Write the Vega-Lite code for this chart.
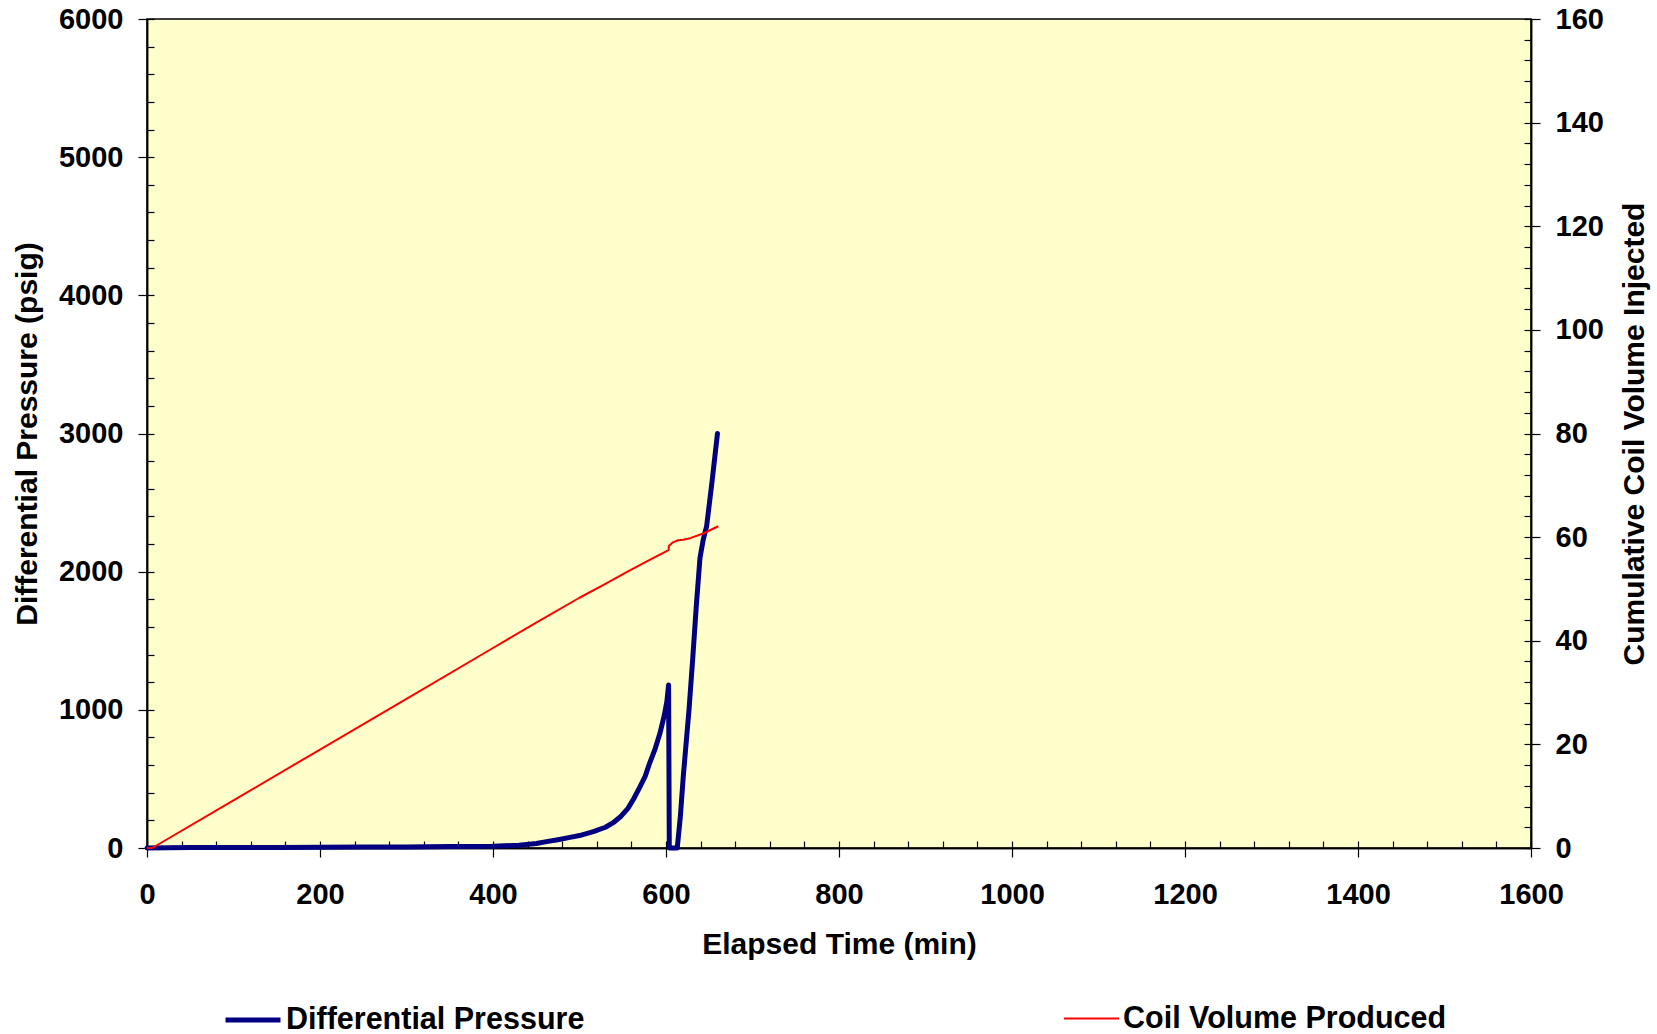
{
  "$schema": "https://vega.github.io/schema/vega-lite/v6.json",
  "width": 1384,
  "height": 829,
  "autosize": {"type": "none"},
  "padding": {"left": 147, "top": 19, "right": 126, "bottom": 186},
  "background": "white",
  "config": {
    "view": {"fill": "#FFFFCC", "stroke": "black", "strokeWidth": 1.5},
    "font": "Liberation Sans",
    "axis": {
      "grid": false,
      "domainColor": "black",
      "domainWidth": 1.5,
      "tickColor": "black",
      "tickWidth": 1.2,
      "labelFont": "Liberation Sans",
      "labelFontWeight": "bold",
      "labelFontSize": 29,
      "labelColor": "black",
      "labelOverlap": false,
      "labelFlush": false,
      "format": "d",
      "titleFont": "Liberation Sans",
      "titleFontWeight": "bold",
      "titleFontSize": 30,
      "titleColor": "black"
    },
    "legend": {
      "title": null,
      "orient": "none",
      "direction": "horizontal",
      "symbolType": "stroke",
      "symbolSize": 3025,
      "labelFont": "Liberation Sans",
      "labelFontWeight": "bold",
      "labelFontSize": 30.5,
      "labelColor": "black",
      "labelOffset": 3,
      "labelLimit": 0,
      "padding": 0
    }
  },
  "datasets": {
    "pressure": [
      {"t": 0, "p": 0}, {"t": 50, "p": 3}, {"t": 100, "p": 4}, {"t": 150, "p": 4},
      {"t": 200, "p": 6}, {"t": 250, "p": 7}, {"t": 300, "p": 8}, {"t": 350, "p": 10},
      {"t": 400, "p": 13}, {"t": 430, "p": 20}, {"t": 450, "p": 32}, {"t": 462, "p": 46},
      {"t": 475, "p": 60}, {"t": 489, "p": 77}, {"t": 500, "p": 90}, {"t": 516, "p": 118},
      {"t": 530, "p": 150}, {"t": 539, "p": 183}, {"t": 548, "p": 230}, {"t": 556, "p": 287},
      {"t": 563, "p": 360}, {"t": 570, "p": 444}, {"t": 576, "p": 520}, {"t": 581, "p": 613},
      {"t": 587, "p": 710}, {"t": 593, "p": 830}, {"t": 598, "p": 960}, {"t": 601, "p": 1060},
      {"t": 603, "p": 1180}, {"t": 603.8, "p": 0}, {"t": 613, "p": 0}, {"t": 616.5, "p": 220},
      {"t": 620, "p": 520}, {"t": 626.6, "p": 1000}, {"t": 631, "p": 1380}, {"t": 635, "p": 1750},
      {"t": 639.3, "p": 2100}, {"t": 643, "p": 2230}, {"t": 647, "p": 2330}, {"t": 653, "p": 2640},
      {"t": 659.5, "p": 3000}
    ],
    "volume": [
      {"t": 0, "v": 0}, {"t": 6, "v": 0}, {"t": 100, "v": 9.2}, {"t": 200, "v": 19.0},
      {"t": 300, "v": 28.8}, {"t": 400, "v": 38.6}, {"t": 450, "v": 43.5}, {"t": 500, "v": 48.3},
      {"t": 530, "v": 51.0}, {"t": 555, "v": 53.3}, {"t": 580, "v": 55.5}, {"t": 603, "v": 57.5},
      {"t": 603.3, "v": 58.3}, {"t": 608, "v": 59.0}, {"t": 614, "v": 59.4}, {"t": 620, "v": 59.5},
      {"t": 628, "v": 59.8}, {"t": 643, "v": 60.7}, {"t": 660.5, "v": 62.1}
    ]
  },
  "layer": [
    {
      "data": {"name": "pressure"},
      "mark": {"type": "line", "opacity": 0},
      "encoding": {
        "x": {"field": "t", "type": "quantitative", "scale": {"domain": [0, 1600], "nice": false},
              "axis": {"orient": "bottom", "values": [0,40,80,120,160,200,240,280,320,360,400,440,480,520,560,600,640,680,720,760,800,840,880,920,960,1000,1040,1080,1120,1160,1200,1240,1280,1320,1360,1400,1440,1480,1520,1560,1600],
                       "tickSize": -7, "labels": false, "title": null}},
        "y": {"field": "p", "type": "quantitative", "scale": {"domain": [0, 6000], "nice": false},
              "axis": {"orient": "left", "values": [0,200,400,600,800,1000,1200,1400,1600,1800,2000,2200,2400,2600,2800,3000,3200,3400,3600,3800,4000,4200,4400,4600,4800,5000,5200,5400,5600,5800,6000],
                       "tickSize": -7, "labels": false, "title": null}}
      }
    },
    {
      "data": {"name": "volume"},
      "mark": {"type": "line", "opacity": 0},
      "encoding": {
        "x": {"field": "t", "type": "quantitative", "scale": {"domain": [0, 1600], "nice": false}, "axis": null},
        "y": {"field": "v", "type": "quantitative", "scale": {"domain": [0, 160], "nice": false},
              "axis": {"orient": "right", "values": [0,4,8,12,16,20,24,28,32,36,40,44,48,52,56,60,64,68,72,76,80,84,88,92,96,100,104,108,112,116,120,124,128,132,136,140,144,148,152,156,160],
                       "tickSize": -7, "labels": false, "title": null}}
      }
    },
    {
      "data": {"name": "pressure"},
      "mark": {"type": "line", "strokeWidth": 5, "strokeJoin": "round", "strokeCap": "round"},
      "encoding": {
        "x": {"field": "t", "type": "quantitative", "scale": {"domain": [0, 1600], "nice": false},
              "axis": {"orient": "bottom", "values": [0,200,400,600,800,1000,1200,1400,1600], "tickSize": 9,
                       "labelBaseline": "alphabetic", "labelPadding": 46,
                       "title": "Elapsed Time (min)", "titleBaseline": "alphabetic", "titleY": 105}},
        "y": {"field": "p", "type": "quantitative", "scale": {"domain": [0, 6000], "nice": false},
              "axis": {"orient": "left", "values": [0,1000,2000,3000,4000,5000,6000], "tickSize": 9, "labelPadding": 15,
                       "title": "Differential Pressure (psig)", "titleAngle": 270, "titleBaseline": "alphabetic", "titleX": -111, "titleY": 414.5}},
        "color": {"datum": "Differential Pressure", "type": "nominal",
                  "scale": {"domain": ["Differential Pressure"], "range": ["#000080"]},
                  "legend": {"legendX": 76, "legendY": 971, "symbolStrokeWidth": 5}}
      }
    },
    {
      "data": {"name": "volume"},
      "mark": {"type": "line", "strokeWidth": 2, "strokeJoin": "round"},
      "encoding": {
        "x": {"field": "t", "type": "quantitative", "scale": {"domain": [0, 1600], "nice": false}, "axis": null},
        "y": {"field": "v", "type": "quantitative", "scale": {"domain": [0, 160], "nice": false},
              "axis": {"orient": "right", "values": [0,20,40,60,80,100,120,140,160], "tickSize": 9, "labelPadding": 15,
                       "title": "Cumulative Coil Volume Injected", "titleAngle": 270, "titleBaseline": "alphabetic", "titleX": 112, "titleY": 414.5}},
        "color": {"datum": "Coil Volume Produced", "type": "nominal",
                  "scale": {"domain": ["Coil Volume Produced"], "range": ["#FF0000"]},
                  "legend": {"legendX": 916, "legendY": 971, "symbolStrokeWidth": 2}}
      }
    }
  ],
  "resolve": {
    "scale": {"x": "independent", "y": "independent", "color": "independent"},
    "axis": {"x": "independent", "y": "independent"},
    "legend": {"color": "independent"}
  }
}
